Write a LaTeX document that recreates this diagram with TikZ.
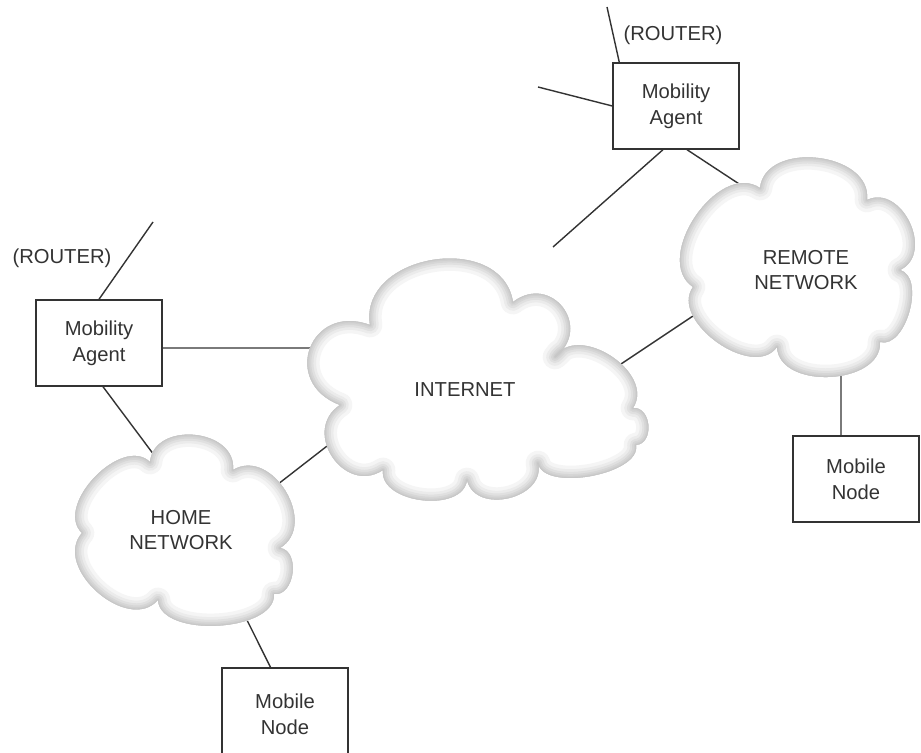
\documentclass[tikz,border=0pt]{standalone}
\usepackage{fontspec}
\setmainfont{Liberation Sans}
\usepackage{tikz}
\usetikzlibrary{calc}

\newcommand{\lobe}[3]{.. controls ($(#1)!#3!-90:(#2)$) and ($(#2)!#3!90:(#1)$) .. (#2)}
\newcommand{\inetpath}{(513,302) \lobe{513,302}{370,325}{0.5} \lobe{370,325}{340,405}{0.75}
  \lobe{340,405}{383,470}{0.6} \lobe{383,470}{467,480}{0.4} \lobe{467,480}{538,463}{0.5}
  \lobe{538,463}{636,445}{0.3} \lobe{636,445}{633,408}{0.5} \lobe{633,408}{555,357}{0.45}
  \lobe{555,357}{513,302}{0.7} -- cycle}
\newcommand{\homepath}{(233,470) \lobe{233,470}{150,462}{0.5} \lobe{150,462}{82,533}{0.4}
  \lobe{82,533}{158,600}{0.45} \lobe{158,600}{274,594}{0.33} \lobe{274,594}{280,548}{0.45}
  \lobe{280,548}{233,470}{0.5} -- cycle}
\newcommand{\remotepath}{(867,200) \lobe{867,200}{760,188}{0.45} \lobe{760,188}{693,287}{0.42}
  \lobe{693,287}{777,347}{0.4} \lobe{777,347}{880,342}{0.42} \lobe{880,342}{900,270}{0.36}
  \lobe{900,270}{867,200}{0.5} -- cycle}
\newcommand{\netcloud}[1]{%
  \begin{scope}[line join=round]
    \clip #1;
    \fill[white] #1;
    \foreach \w/\g in {14/4,10/8,7/12,4.5/16,2.5/19,1/22}
      {\draw[line width=\w pt, black!\g] #1;}
  \end{scope}}

\begin{document}
\begin{tikzpicture}[x=0.02cm, y=-0.02cm,
                    every node/.style={font=\fontsize{11.5}{14.6}\selectfont, text=black!80},
                    box/.style={draw=black!80, line width=0.8pt, minimum width=2.52cm,
                                minimum height=1.72cm, inner sep=0pt, align=center},
                    link/.style={draw=black!80, line width=0.8pt}]
  \useasboundingbox (0,0) rectangle (921,753);

  \node[box] (maL) at (99,343) {Mobility\\Agent};
  \node[box] (maR) at (676,106) {Mobility\\Agent};
  \node[box] (mnR) at (856,479) {Mobile\\Node};
  \node[box, minimum height=1.84cm] (mnL) at (285,714) {Mobile\\Node};
  \node (rtL) at (62,258) {(ROUTER)};
  \node (rtR) at (673,35) {(ROUTER)};

  \coordinate (upL) at (153,222);
  \coordinate (upR) at (607,7);
  \coordinate (leftR) at (538,87);
  \coordinate (downR) at (553,247);
  \coordinate (inetW) at (340,348);
  \coordinate (inetSW) at (349,429);
  \coordinate (inetE) at (603,376);
  \coordinate (homeN) at (160,463);
  \coordinate (homeNE) at (264,495);
  \coordinate (homeS) at (239,604);
  \coordinate (remoteW) at (705,308);
  \coordinate (remoteNW) at (762,199);
  \coordinate (remoteS) at (841,357);

  \draw[link] (maL.north) -- (upL);
  \draw[link] ([yshift=-0.1cm]maL.east) -- (inetW);
  \draw[link] ([xshift=0.08cm]maL.south) -- (homeN);
  \draw[link] (homeNE) -- (inetSW);
  \draw[link] ([xshift=-0.29cm]mnL.north) -- (homeS);
  \draw[link] (inetE) -- (remoteW);
  \draw[link] ([xshift=0.14cm]maR.north west) -- (upR);
  \draw[link] (maR.west) -- (leftR);
  \draw[link] ([xshift=-0.26cm]maR.south) -- (downR);
  \draw[link] ([xshift=0.22cm]maR.south) -- (remoteNW);
  \draw[link] ([xshift=-0.3cm]mnR.north) -- (remoteS);

  \netcloud{\inetpath}
  \netcloud{\homepath}
  \netcloud{\remotepath}

  \node[align=center] (inet) at (465,390) {INTERNET};
  \node[align=center] (home) at (181,530) {HOME\\NETWORK};
  \node[align=center] (remote) at (806,270) {REMOTE\\NETWORK};
\end{tikzpicture}
\end{document}
